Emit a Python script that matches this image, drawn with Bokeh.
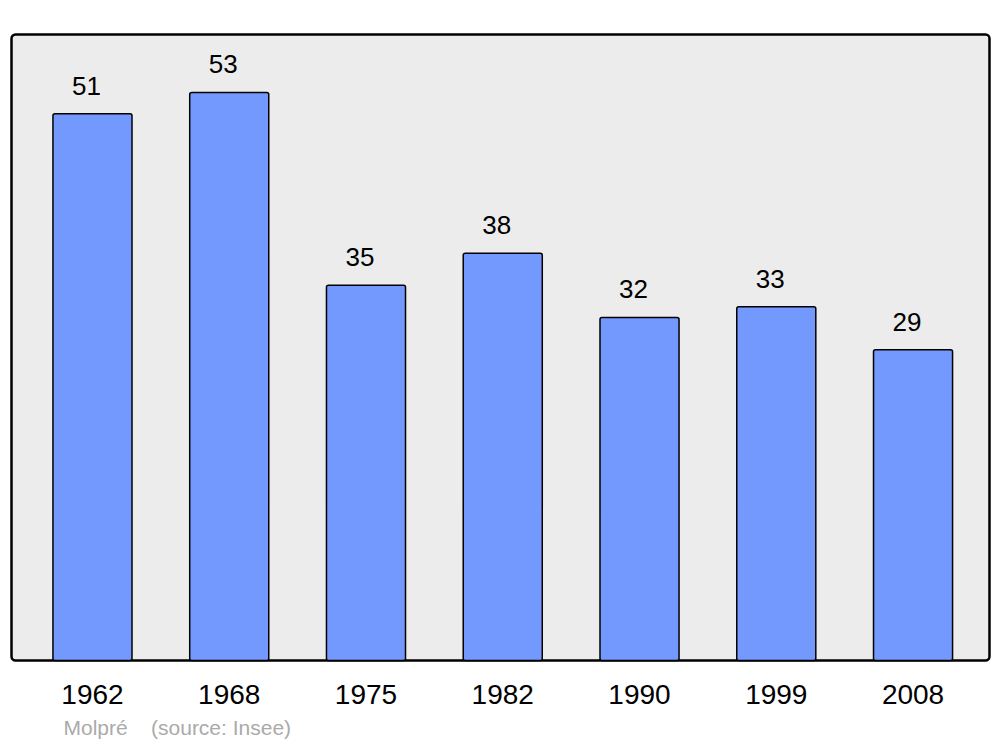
from bokeh.plotting import figure
from bokeh.models import Range1d, ColumnDataSource, FixedTicker, Title
from bokeh.core.properties import value
from bokeh.embed import file_html
from bokeh.resources import INLINE

years = ["1962", "1968", "1975", "1982", "1990", "1999", "2008"]
population = [51, 53, 35, 38, 32, 33, 29]
commune = "Molpré"
source_note = "(source: Insee)"

pos = list(range(len(years)))
src = ColumnDataSource(dict(x=pos, y=population, lab=[str(v) for v in population]))

FONT = "Liberation Sans"
X0, X1 = -0.592, 6.559
YMAX = 58.4
PADX, PADY = 0.022, 0.28

p = figure(width=1000, height=747, output_backend="svg", toolbar_location=None,
           x_range=Range1d(X0 - PADX, X1 + PADX), y_range=Range1d(-PADY, YMAX + PADY),
           y_axis_location=None, min_border_left=8, min_border_right=8,
           min_border_top=31, min_border_bottom=84)
p.outline_line_color = None
p.xgrid.visible = False
p.ygrid.visible = False
p.background_fill_color = "white"
p.border_fill_color = "white"

# rounded plot panel
p.quad(left=[X0], right=[X1], bottom=[0], top=[YMAX], fill_color="#ececec",
       line_color="black", line_width=2.5, border_radius=4)

p.vbar(x="x", top="y", width=0.578, bottom=0, source=src, fill_color="#7399ff",
       line_color="black", line_width=1.5, border_radius=2)

p.text(x="x", y="y", text="lab", source=src, x_offset=-6, y_offset=-28,
       text_align="center", text_baseline="middle", text_font=value(FONT),
       text_font_size="26px", text_color="black")

ax = p.xaxis[0]
ax.ticker = FixedTicker(ticks=pos)
ax.major_label_overrides = {i: y for i, y in enumerate(years)}
ax.axis_line_color = None
ax.major_tick_line_color = None
ax.minor_tick_line_color = None
ax.major_label_text_font = FONT
ax.major_label_text_font_size = "28px"
ax.major_label_text_color = "black"
ax.major_label_standoff = 15

note = Title(text=commune + "\u00a0\u00a0\u00a0\u00a0" + source_note, align="left",
             offset=55, text_font=FONT, text_font_size="21px", text_color="#aaaaaa",
             text_font_style="normal", standoff=15)
p.add_layout(note, "below")

open("out.html", "w").write(file_html(p, INLINE))
